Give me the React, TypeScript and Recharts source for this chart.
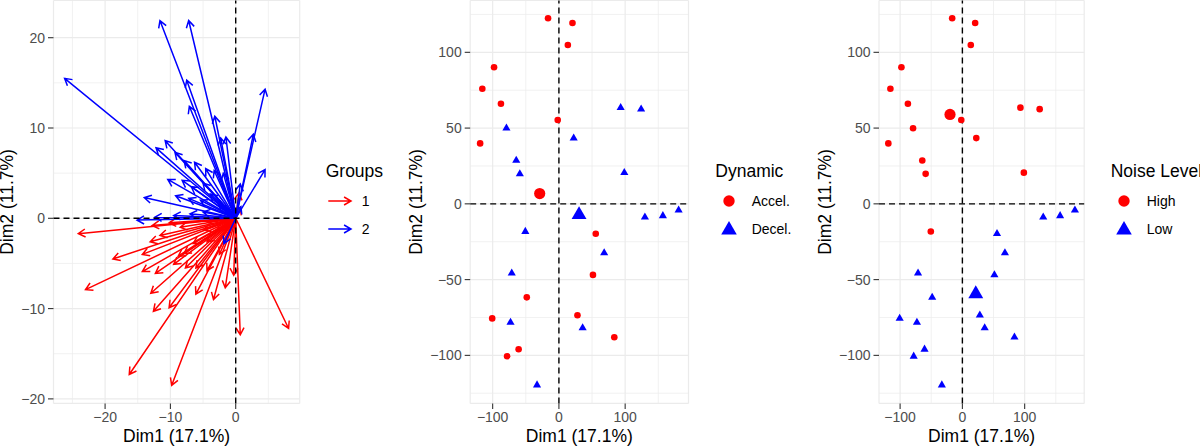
import React from 'react';
import { ScatterChart, Scatter, XAxis, YAxis, CartesianGrid, ReferenceLine } from 'recharts';

const FONT = '"Liberation Sans", Arial, Helvetica, sans-serif';
const RED = '#FF0000';
const BLUE = '#0000FF';
const TICK_FILL = '#4D4D4D';
const TICK_LINE = '#333333';
const GRID = '#EBEBEB';

// ---------- Panel 1: variables (arrows) ----------
const groupLabels = ['1', '2'];
const group1X = [-24.1, -18.8, -23.0, -12.8, -10.2, -13.1, -11.6, -14.3, -14.3, -12.3, -13.0, -12.6, -10.2, -9.5, -8.8, -7.9, -7.7, -16.3, -9.8, -6.1, -3.4, -1.6, -0.3, 0.7, 8.1, -6.1, -4.4, -6.5, -4.4, -4.9, -2.9, -4.4, 0.5, 0.7, -8.5, -2.5];
const group1Y = [-1.7, -4.5, -7.9, -0.8, -0.5, -2.6, -1.9, -4.0, -5.9, -6.1, -8.3, -10.3, -9.9, -5.1, -4.2, -3.9, -5.5, -17.3, -18.5, -8.4, -9.0, -7.7, -6.3, -12.9, -12.2, -5.5, -5.8, -2.8, -2.6, -1.3, -1.3, -0.4, 2.8, 1.2, -1.0, -4.0];
const group2X = [-26.2, -11.6, -7.2, -7.5, -7.1, -3.2, -2.3, -1.5, 4.5, 2.7, 4.5, 0.7, 0.8, -12.2, -10.8, -9.3, -7.9, -6.3, -4.6, -10.4, -8.2, -6.8, -5.0, -3.9, -14.0, -9.2, -7.2, -5.4, -15.1, -12.4, -9.5, -7.0, -5.0, -3.3, -1.9, -1.8, -2.6];
const group2Y = [15.5, 21.9, 21.9, 15.3, 12.4, 11.3, 8.9, 9.0, 14.3, 9.3, 5.4, 3.8, 1.3, 7.8, 8.6, 7.3, 6.4, 6.2, 5.5, 4.3, 4.2, 3.5, 3.9, 2.7, 2.3, 2.5, 2.2, 2.0, -0.2, 0.1, 0.3, 0.5, 0.7, 5.3, 5.0, -2.8, 1.5];

const varTicksX = [-20, -10, 0];
const varTicksY = [-20, -10, 0, 10, 20];
const varMinorX = [-25, -15, -5, 5];
const varMinorY = [-15, -5, 5, 15];
const varDomainX: [number, number] = [-27.9, 9.8];
const varDomainY: [number, number] = [-20.5, 24.12];

// ---------- Panels 2 & 3: individuals ----------
const indDim1 = [-16.4, 20.5, 13.5, -97.9, -115.6, -87.5, -1.8, -118.9, 55.6, 51.4, -48.5, 28.0, -100.7, 83.6, -60.8, -78.2,
  93.2, 124.1, -79.2, 22.3, -64.4, -59.0, 98.7, -50.7, 129.8, 156.9, 180.7, 68.3, -71.2, -73.0, 35.8, -33.0];
const indDim2 = [122.5, 119.4, 104.8, 90.1, 76.0, 66.1, 55.3, 39.9, -19.7, -46.9, -61.7, -73.5, -75.6, -88.0, -96.0, -100.6,
  63.5, 62.5, 49.9, 43.4, 28.6, 19.8, 20.6, -18.3, -8.8, -7.9, -4.2, -32.4, -45.8, -78.2, -81.9, -119.6];
const indDynamic = ['Accel.', 'Accel.', 'Accel.', 'Accel.', 'Accel.', 'Accel.', 'Accel.', 'Accel.', 'Accel.', 'Accel.', 'Accel.', 'Accel.', 'Accel.', 'Accel.', 'Accel.', 'Accel.',
  'Decel.', 'Decel.', 'Decel.', 'Decel.', 'Decel.', 'Decel.', 'Decel.', 'Decel.', 'Decel.', 'Decel.', 'Decel.', 'Decel.', 'Decel.', 'Decel.', 'Decel.', 'Decel.'];
const indNoise = ['High', 'High', 'High', 'High', 'High', 'High', 'High', 'High', 'Low', 'Low', 'Low', 'Low', 'Low', 'Low', 'Low', 'Low',
  'High', 'High', 'High', 'High', 'High', 'High', 'High', 'High', 'Low', 'Low', 'Low', 'Low', 'Low', 'Low', 'Low', 'Low'];

const dynamicLevels = ['Accel.', 'Decel.'];
const dynamicCentroidX = [-29.0, 30.4];
const dynamicCentroidY = [6.8, -7.2];
const noiseLevels = ['High', 'Low'];
const noiseCentroidX = [-19.9, 21.5];
const noiseCentroidY = [59.0, -59.4];

const indTicksX = [-100, 0, 100];
const indTicksY = [-100, -50, 0, 50, 100];
const indMinorX = [-50, 50, 150];
const indMinorY = [-125, -75, -25, 25, 75, 125];
const indDomainX: [number, number] = [-133.9, 195.6];
const indDomainY: [number, number] = [-131.7, 134.2];

const levelColors = [RED, BLUE];

const fmt = (v: number) => (v < 0 ? '\u2212' + Math.abs(v) : String(v));

// ---------- shapes ----------
const ARROW_LEN = 8;
const ARROW_W = 1.5;
const arrowPath = (x1: number, y1: number, x2: number, y2: number) => {
  const a = Math.atan2(y2 - y1, x2 - x1);
  const t = Math.PI / 6;
  const ax = x2 - ARROW_LEN * Math.cos(a - t);
  const ay = y2 - ARROW_LEN * Math.sin(a - t);
  const bx = x2 - ARROW_LEN * Math.cos(a + t);
  const by = y2 - ARROW_LEN * Math.sin(a + t);
  return `M${x1},${y1}L${x2},${y2}M${ax},${ay}L${x2},${y2}L${bx},${by}`;
};

const makeArrow = (color: string) => (p: any) => {
  if (p == null || p.x1 == null || p.x2 == null) return <g />;
  return (
    <path d={arrowPath(p.x1, p.y1, p.x2, p.y2)} fill="none" stroke={color} strokeWidth={ARROW_W}
      strokeLinecap="butt" strokeLinejoin="miter" />
  );
};

const makeDot = (r: number, color: string) => (p: any) => (
  <circle cx={p.cx} cy={p.cy} r={r} fill={color} />
);
const triPath = (cx: number, cy: number, R: number) =>
  `M${cx},${cy - R}L${cx + R * 0.866},${cy + R / 2}L${cx - R * 0.866},${cy + R / 2}Z`;
const makeTri = (R: number, color: string) => (p: any) => (
  <path d={triPath(p.cx, p.cy, R)} fill={color} />
);
const Empty = () => <g />;

// ---------- axis titles ----------
const TITLE_SIZE = 17.5;
const xTitle = (props: any) => {
  const vb = props.viewBox || {};
  return (
    <text x={vb.x + vb.width / 2} y={vb.y + 38.8} textAnchor="middle" fontSize={TITLE_SIZE} fontFamily={FONT} fill="#000">
      Dim1 (17.1%)
    </text>
  );
};
const makeYTitle = (dx: number) => (props: any) => {
  const vb = props.viewBox || {};
  const x = vb.x + dx;
  const cy = vb.y + vb.height / 2;
  return (
    <text x={x} y={cy} transform={`rotate(-90 ${x} ${cy})`} textAnchor="middle" fontSize={TITLE_SIZE} fontFamily={FONT} fill="#000">
      Dim2 (11.7%)
    </text>
  );
};

const tickStyle = { fill: TICK_FILL, fontSize: 14, fontFamily: FONT };

type PanelCfg = {
  yAxisWidth: number;
  marginRight: number;
  yTitleDx: number;
};

const CHART_W = 400;
const CHART_H = 446;
const PLOT_TOP = 0.5;
const X_AXIS_H = 42.6;

const axes = (cfg: PanelCfg, domX: [number, number], domY: [number, number], ticksX: number[], ticksY: number[]) => [
  <XAxis key="xa" type="number" dataKey="x" domain={domX} ticks={ticksX} allowDataOverflow interval={0}
    height={X_AXIS_H} axisLine={false} tickLine={{ stroke: TICK_LINE, strokeWidth: 1.1 }} tickSize={5.5} tickMargin={3.4}
    tick={tickStyle} tickFormatter={fmt} label={xTitle} />,
  <YAxis key="ya" type="number" dataKey="y" domain={domY} ticks={ticksY} allowDataOverflow interval={0}
    width={cfg.yAxisWidth} axisLine={false} tickLine={{ stroke: TICK_LINE, strokeWidth: 1.1 }} tickSize={5.5} tickMargin={3}
    tick={tickStyle} tickFormatter={fmt} label={makeYTitle(cfg.yTitleDx)} />,
];

const minorLines = (mx: number[], my: number[]) => [
  ...mx.map((v) => <ReferenceLine key={`mx${v}`} x={v} stroke={GRID} strokeWidth={0.7} />),
  ...my.map((v) => <ReferenceLine key={`my${v}`} y={v} stroke={GRID} strokeWidth={0.7} />),
];

const zeroLines = () => [
  <ReferenceLine key="z0x" x={0} stroke="#000" strokeWidth={1.4} strokeDasharray="6 4" />,
  <ReferenceLine key="z0y" y={0} stroke="#000" strokeWidth={1.4} strokeDasharray="6 4" />,
];

// ---------- Panel 1 ----------
const groupsXs = [group1X, group2X];
const groupsYs = [group1Y, group2Y];

function VarPanel() {
  const cfg: PanelCfg = { yAxisWidth: 53.5, marginRight: CHART_W - 299.7, yTitleDx: 13.2 };
  const tips = groupsXs.flatMap((xs, g) => xs.map((x, i) => ({ x, y: groupsYs[g][i] })));
  return (
    <ScatterChart width={CHART_W} height={CHART_H} margin={{ top: PLOT_TOP, right: cfg.marginRight, bottom: 0, left: 0 }}>
      <CartesianGrid stroke={GRID} strokeWidth={1.2} />
      {minorLines(varMinorX, varMinorY)}
      {axes(cfg, varDomainX, varDomainY, varTicksX, varTicksY)}
      <Scatter data={tips} shape={Empty} isAnimationActive={false} />
      {groupsXs.map((xs, g) =>
        xs.map((x, i) => (
          <ReferenceLine key={`a${g}-${i}`} segment={[{ x: 0, y: 0 }, { x, y: groupsYs[g][i] }]}
            stroke={levelColors[g]} shape={makeArrow(levelColors[g])} />
        ))
      )}
      {zeroLines()}
    </ScatterChart>
  );
}

// ---------- Panels 2 & 3 ----------
function IndPanel({ groupOf, levels, cx, cy, cfg }: { groupOf: string[]; levels: string[]; cx: number[]; cy: number[]; cfg: PanelCfg }) {
  const series = levels.map((lv) =>
    indDim1.map((x, i) => ({ x, y: indDim2[i], g: groupOf[i] })).filter((d) => d.g === lv)
  );
  return (
    <ScatterChart width={CHART_W} height={CHART_H} margin={{ top: PLOT_TOP, right: cfg.marginRight, bottom: 0, left: 0 }}>
      <CartesianGrid stroke={GRID} strokeWidth={1.2} />
      {minorLines(indMinorX, indMinorY)}
      {axes(cfg, indDomainX, indDomainY, indTicksX, indTicksY)}
      {zeroLines()}
      <Scatter data={series[0]} shape={makeDot(3.3, RED)} isAnimationActive={false} />
      <Scatter data={series[1]} shape={makeTri(4.7, BLUE)} isAnimationActive={false} />
      <Scatter data={[{ x: cx[0], y: cy[0] }]} shape={makeDot(5.6, RED)} isAnimationActive={false} />
      <Scatter data={[{ x: cx[1], y: cy[1] }]} shape={makeTri(8.6, BLUE)} isAnimationActive={false} />
    </ScatterChart>
  );
}

// ---------- Legends ----------
function Legends() {
  const titleProps = { fontSize: TITLE_SIZE, fontFamily: FONT, fill: '#000' };
  const itemProps = { fontSize: 14, fontFamily: FONT, fill: '#000' };
  const rowY = [201, 229];
  return (
    <svg width={1200} height={446} style={{ position: 'absolute', left: 0, top: 0, pointerEvents: 'none' }}>
      {/* Groups */}
      <text x={325.7} y={176.7} {...titleProps}>Groups</text>
      {groupLabels.map((lb, i) => (
        <g key={lb}>
          <path d={arrowPath(328.3, rowY[i], 351, rowY[i])} fill="none" stroke={levelColors[i]} strokeWidth={ARROW_W} />
          <text x={361.7} y={rowY[i] + 5} {...itemProps}>{lb}</text>
        </g>
      ))}
      {/* Dynamic */}
      <text x={715.3} y={176.7} {...titleProps}>Dynamic</text>
      {dynamicLevels.map((lb, i) => (
        <g key={lb}>
          {i === 0 ? <circle cx={729} cy={rowY[i]} r={5.7} fill={RED} /> : <path d={triPath(729, rowY[i] + 1, 9)} fill={BLUE} />}
          <text x={751.7} y={rowY[i] + 5} {...itemProps}>{lb}</text>
        </g>
      ))}
      {/* Noise Level */}
      <text x={1110.7} y={176.7} {...titleProps}>Noise Level</text>
      {noiseLevels.map((lb, i) => (
        <g key={lb}>
          {i === 0 ? <circle cx={1124} cy={rowY[i]} r={5.7} fill={RED} /> : <path d={triPath(1124, rowY[i] + 1, 9)} fill={BLUE} />}
          <text x={1146.7} y={rowY[i] + 5} {...itemProps}>{lb}</text>
        </g>
      ))}
    </svg>
  );
}

export default function App() {
  return (
    <div style={{ position: 'absolute', left: 0, top: 0, width: 1200, height: 446, background: '#fff', overflow: 'hidden', fontFamily: FONT }}>
      <div style={{ position: 'absolute', left: 0, top: 0 }}>
        <VarPanel />
      </div>
      <div style={{ position: 'absolute', left: 400, top: 0 }}>
        <IndPanel groupOf={indDynamic} levels={dynamicLevels} cx={dynamicCentroidX} cy={dynamicCentroidY}
          cfg={{ yAxisWidth: 70.2, marginRight: CHART_W - 288.5, yTitleDx: 22.2 }} />
      </div>
      <div style={{ position: 'absolute', left: 800, top: 0 }}>
        <IndPanel groupOf={indNoise} levels={noiseLevels} cx={noiseCentroidX} cy={noiseCentroidY}
          cfg={{ yAxisWidth: 79, marginRight: CHART_W - 284.2, yTitleDx: 31 }} />
      </div>
      <Legends />
    </div>
  );
}
